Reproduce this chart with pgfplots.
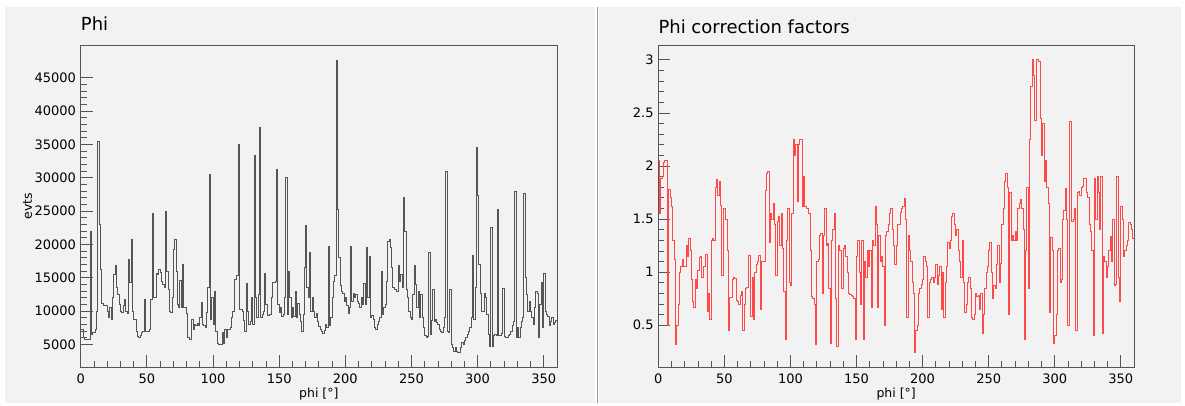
\documentclass[border=0pt]{standalone}
\usepackage{fontspec}
\setmainfont{DejaVu Sans}
\usepackage{pgfplots}
\pgfplotsset{compat=1.18}
\definecolor{panelgray}{HTML}{F2F2F2}
\definecolor{framegray}{HTML}{555555}
\definecolor{histgray}{HTML}{555555}
\definecolor{histred}{HTML}{FF4848}
\definecolor{divgray}{HTML}{9A9A9A}

\pgfplotsset{
  rootaxis/.style={
    scale only axis, anchor=south west,
    height=322.3pt,
    xmin=0, xmax=360,
    xtick={0,50,...,350}, minor x tick num=4,
    tick align=inside, xtick pos=bottom, ytick pos=left,
    axis background/.style={fill=panelgray},
    axis line style={framegray, line width=0.8pt},
    tick style={framegray, line width=0.8pt},
    major tick length=12pt, minor tick length=6pt,
    scaled ticks=false,
    ticklabel style={font=\fontsize{13}{15}\selectfont},
    /pgf/number format/assume math mode=true,
    /pgf/number format/1000 sep={},
    xticklabel style={anchor=north, inner sep=0pt, yshift=-6pt},
    yticklabel style={anchor=east, inner sep=0pt, xshift=-4.5pt},
    xlabel={phi [°]},
    xlabel style={at={(axis description cs:0.5,0)}, anchor=base, inner sep=0pt,
      yshift=-29.7pt, font=\fontsize{12.5}{14}\selectfont},
    title style={at={(axis description cs:0,1)}, anchor=base west, inner sep=0pt,
      font=\fontsize{18}{20}\selectfont},
    clip=true,
  }
}

\begin{document}
\begin{tikzpicture}
\path[use as bounding box, fill=white] (0,0) rectangle (1185pt,405pt);
\fill[panelgray] (5pt,2pt) rectangle (595pt,398pt);
\fill[panelgray] (599pt,2pt) rectangle (1181pt,398pt);
\draw[divgray, line width=0.8pt] (597pt,2pt) -- (597pt,398pt);

% left: event counts per degree
\begin{axis}[rootaxis,
  at={(80.7pt,37.7pt)}, width=476.3pt,
  ymin=1550, ymax=49900,
  ytick={5000,10000,...,45000}, minor y tick num=4,
  ylabel={evts},
  ylabel style={at={(axis description cs:-0.1023,0.5)}, anchor=base, inner sep=0pt,
    font=\fontsize{12.5}{14}\selectfont},
  title={Phi},
  title style={yshift=9pt},
]
\addplot[const plot, mark=none, color=histgray, line width=0.9pt] coordinates {
(0,7300) (1,7300) (2,6000) (3,5700) (4,5700) (5,5700) (6,5700) (7,22000) (8,6500) (9,6800)
(10,6800) (11,7200) (12,10000) (13,35500) (14,23000) (15,16300) (16,11200) (17,10800) (18,10800) (19,10900)
(20,10000) (21,9000) (22,10500) (23,8700) (24,12000) (25,15500) (26,16800) (27,13500) (28,12500) (29,11000)
(30,10000) (31,9800) (32,10800) (33,11800) (34,10000) (35,9700) (36,17700) (37,14300) (38,20700) (39,10000)
(40,8700) (41,8800) (42,7000) (43,6200) (44,6000) (45,6300) (46,6800) (47,7000) (48,11700) (49,7000)
(50,7000) (51,7000) (52,7200) (53,11800) (54,24700) (55,12000) (56,12000) (57,15700) (58,15500) (59,16200)
(60,15800) (61,14500) (62,14000) (63,13500) (64,25000) (65,15900) (66,13300) (67,10000) (68,9800) (69,12000)
(70,19300) (71,20700) (72,16000) (73,11000) (74,10500) (75,14600) (76,10500) (77,17000) (78,10500) (79,10500)
(80,9700) (81,6000) (82,5800) (83,5800) (84,8800) (85,7200) (86,8000) (87,7800) (88,8200) (89,7800)
(90,9000) (91,11300) (92,8000) (93,7800) (94,7500) (95,9800) (96,13600) (97,30500) (98,8700) (99,12000)
(100,8000) (101,13000) (102,7000) (103,5200) (104,5000) (105,5000) (106,5000) (107,6800) (108,5200) (109,7200)
(110,6000) (111,7200) (112,7200) (113,7500) (114,9000) (115,10000) (116,14800) (117,14800) (118,15300) (119,35000)
(120,10300) (121,10300) (122,10000) (123,8600) (124,7000) (125,14200) (126,10000) (127,8000) (128,8400) (129,12000)
(130,8000) (131,33300) (132,12000) (133,9000) (134,12500) (135,37500) (136,9000) (137,9500) (138,10000) (139,15600)
(140,11000) (141,9300) (142,9300) (143,9500) (144,12000) (145,14300) (146,14300) (147,14500) (148,31300) (149,11000)
(150,9800) (151,10500) (152,9200) (153,9500) (154,12000) (155,30100) (156,9500) (157,16000) (158,12000) (159,9000)
(160,10500) (161,9200) (162,13000) (163,9000) (164,11200) (165,9500) (166,8500) (167,7000) (168,9500) (169,16500)
(170,22800) (171,13500) (172,12000) (173,18800) (174,10000) (175,12000) (176,10000) (177,9000) (178,9700) (179,8500)
(180,7700) (181,7300) (182,7000) (183,6700) (184,7100) (185,8000) (186,7500) (187,19700) (188,7800) (189,9000)
(190,12000) (191,14500) (192,15300) (193,47600) (194,25200) (195,18000) (196,13800) (197,13000) (198,12600) (199,11500)
(200,12000) (201,10800) (202,9700) (203,10500) (204,19700) (205,11500) (206,12700) (207,12000) (208,12500) (209,11500)
(210,11200) (211,10600) (212,12000) (213,11000) (214,14200) (215,11000) (216,19500) (217,12000) (218,18200) (219,9000)
(220,9300) (221,8700) (222,7500) (223,7200) (224,8000) (225,8500) (226,9000) (227,16000) (228,9500) (229,10500)
(230,11000) (231,14500) (232,20500) (233,20800) (234,19500) (235,16500) (236,13500) (237,13200) (238,13300) (239,13000)
(240,16800) (241,14500) (242,15500) (243,13500) (244,27000) (245,22000) (246,13300) (247,12000) (248,10000) (249,9000)
(250,8700) (251,12500) (252,16800) (253,14000) (254,10500) (255,13000) (256,9000) (257,12500) (258,9000) (259,7500)
(260,6300) (261,6000) (262,6200) (263,18800) (264,6500) (265,8600) (266,13300) (267,8500) (268,8800) (269,8300)
(270,8000) (271,7300) (272,7000) (273,6800) (274,7500) (275,9000) (276,31000) (277,7000) (278,6800) (279,13200)
(280,5000) (281,4500) (282,4000) (283,4500) (284,3900) (285,3800) (286,3800) (287,4500) (288,5300) (289,5000)
(290,5600) (291,6000) (292,6500) (293,7000) (294,7500) (295,9000) (296,18300) (297,8800) (298,13500) (299,34600)
(300,27400) (301,17000) (302,12700) (303,10000) (304,10000) (305,12700) (306,12000) (307,9500) (308,6500) (309,4700)
(310,22500) (311,4700) (312,6300) (313,6500) (314,6400) (315,25200) (316,6400) (317,6300) (318,6600) (319,13400)
(320,6200) (321,6000) (322,6000) (323,6300) (324,6500) (325,7000) (326,7800) (327,8500) (328,27900) (329,6000)
(330,7500) (331,6000) (332,7500) (333,8500) (334,9000) (335,27600) (336,15000) (337,12500) (338,10000) (339,11400)
(340,10000) (341,9000) (342,8000) (343,10500) (344,13000) (345,12700) (346,6000) (347,11000) (348,14300) (349,7500)
(350,15600) (351,10000) (352,9500) (353,9200) (354,7800) (355,8500) (356,9000) (357,8000) (358,8300) (359,8600)
(360,8600)
};
\end{axis}

% right: correction factors per degree
\begin{axis}[rootaxis,
  at={(658.3pt,37.7pt)}, width=475.7pt,
  ymin=0.104, ymax=3.14,
  ytick={0.5,1,...,3}, minor y tick num=4,
  title={Phi correction factors},
  title style={yshift=6pt},
]
\addplot[const plot, mark=none, color=histred, line width=1pt] coordinates {
(0,2.05) (1,1.55) (2,1.88) (3,1.9) (4,2.03) (5,2.05) (6,2.05) (7,0.5) (8,1.78) (9,1.7)
(10,1.62) (11,1.3) (12,1.12) (13,0.32) (14,0.5) (15,0.7) (16,1.0) (17,1.05) (18,1.12) (19,1.05)
(20,1.05) (21,1.25) (22,1.15) (23,1.32) (24,1.2) (25,0.93) (26,0.72) (27,0.67) (28,0.93) (29,0.85)
(30,1.02) (31,1.14) (32,1.15) (33,0.95) (34,1.05) (35,1.05) (36,1.17) (37,0.63) (38,0.8) (39,0.55)
(40,1.3) (41,1.32) (42,1.3) (43,1.8) (44,1.87) (45,1.72) (46,1.85) (47,1.63) (48,0.97) (49,1.6)
(50,1.6) (51,1.5) (52,1.2) (53,0.45) (54,0.76) (55,0.76) (56,0.93) (57,0.95) (58,0.94) (59,0.73)
(60,0.72) (61,0.7) (62,0.78) (63,0.82) (64,0.45) (65,0.7) (66,0.85) (67,0.86) (68,1.16) (69,1.16)
(70,0.58) (71,0.95) (72,0.55) (73,1.0) (74,1.07) (75,1.1) (76,1.16) (77,0.65) (78,1.1) (79,1.1)
(80,1.1) (81,1.77) (82,1.93) (83,1.95) (84,1.28) (85,1.55) (86,1.5) (87,1.65) (88,1.45) (89,0.97)
(90,1.48) (91,1.52) (92,1.25) (93,1.55) (94,1.22) (95,0.82) (96,0.37) (97,1.3) (98,1.6) (99,0.9)
(100,0.87) (101,1.55) (102,2.25) (103,2.1) (104,2.2) (105,1.67) (106,2.2) (107,2.25) (108,2.25) (109,1.62)
(110,1.9) (111,1.62) (112,1.6) (113,1.6) (114,1.55) (115,1.2) (116,0.77) (117,0.75) (118,0.7) (119,0.32)
(120,1.1) (121,1.12) (122,1.35) (123,1.36) (124,0.8) (125,1.35) (126,1.6) (127,1.25) (128,1.27) (129,0.85)
(130,0.33) (131,1.3) (132,1.4) (133,1.55) (134,0.75) (135,0.3) (136,1.25) (137,1.2) (138,1.2) (139,0.85)
(140,1.22) (141,1.25) (142,1.15) (143,1.0) (144,0.8) (145,0.79) (146,0.78) (147,0.77) (148,0.75) (149,0.37)
(150,1.15) (151,1.3) (152,1.0) (153,0.7) (154,1.3) (155,0.37) (156,1.1) (157,0.95) (158,1.2) (159,1.05)
(160,1.2) (161,0.67) (162,1.3) (163,1.25) (164,1.62) (165,1.45) (166,0.67) (167,1.35) (168,1.1) (169,1.15)
(170,1.05) (171,0.5) (172,1.35) (173,1.38) (174,1.45) (175,1.55) (176,1.6) (177,1.4) (178,1.25) (179,1.07)
(180,1.25) (181,1.45) (182,1.45) (183,1.56) (184,1.6) (185,1.62) (186,1.69) (187,1.5) (188,0.57) (189,1.35)
(190,1.2) (191,1.1) (192,0.9) (193,0.8) (194,0.24) (195,0.45) (196,0.5) (197,0.8) (198,0.85) (199,0.88)
(200,0.93) (201,1.15) (202,1.1) (203,1.05) (204,0.57) (205,0.9) (206,0.93) (207,0.95) (208,0.9) (209,0.95)
(210,1.07) (211,0.88) (212,0.97) (213,1.05) (214,0.65) (215,1.0) (216,0.57) (217,0.9) (218,1.05) (219,1.28)
(220,1.22) (221,1.3) (222,1.52) (223,1.55) (224,1.45) (225,1.35) (226,1.4) (227,1.2) (228,1.1) (229,0.95)
(230,1.3) (231,0.9) (232,0.62) (233,0.7) (234,0.9) (235,0.95) (236,0.85) (237,0.57) (238,0.55) (239,0.6)
(240,0.8) (241,0.77) (242,0.78) (243,0.65) (244,0.8) (245,0.42) (246,0.6) (247,0.85) (248,1.0) (249,1.05)
(250,1.2) (251,1.28) (252,1.0) (253,0.75) (254,0.87) (255,0.85) (256,1.07) (257,1.25) (258,0.9) (259,1.08)
(260,1.45) (261,1.6) (262,1.85) (263,1.93) (264,1.8) (265,0.6) (266,1.75) (267,1.3) (268,1.35) (269,1.3)
(270,1.38) (271,1.3) (272,1.6) (273,1.65) (274,1.68) (275,1.6) (276,1.4) (277,0.37) (278,1.2) (279,1.8)
(280,0.85) (281,2.25) (282,2.75) (283,3.0) (284,2.85) (285,2.43) (286,3.0) (287,3.0) (288,2.98) (289,2.45)
(290,2.1) (291,2.4) (292,1.85) (293,2.05) (294,1.8) (295,1.65) (296,0.62) (297,1.33) (298,1.2) (299,0.33)
(300,0.4) (301,0.6) (302,1.2) (303,1.22) (304,0.9) (305,0.93) (306,1.5) (307,1.58) (308,1.79) (309,1.5)
(310,0.5) (311,2.42) (312,2.42) (313,1.48) (314,1.5) (315,1.6) (316,0.45) (317,1.75) (318,1.76) (319,1.72)
(320,1.8) (321,1.81) (322,1.88) (323,1.88) (324,1.75) (325,1.7) (326,1.45) (327,1.38) (328,1.2) (329,0.4)
(330,1.88) (331,1.5) (332,1.9) (333,1.75) (334,1.4) (335,1.9) (336,0.42) (337,1.15) (338,1.1) (339,0.95)
(340,1.05) (341,1.2) (342,1.34) (343,1.1) (344,1.5) (345,0.87) (346,0.88) (347,1.9) (348,0.95) (349,0.72)
(350,1.62) (351,1.5) (352,1.15) (353,1.2) (354,1.25) (355,1.3) (356,1.47) (357,1.45) (358,1.4) (359,1.32)
(360,1.32)
};
\end{axis}
\end{tikzpicture}
\end{document}
